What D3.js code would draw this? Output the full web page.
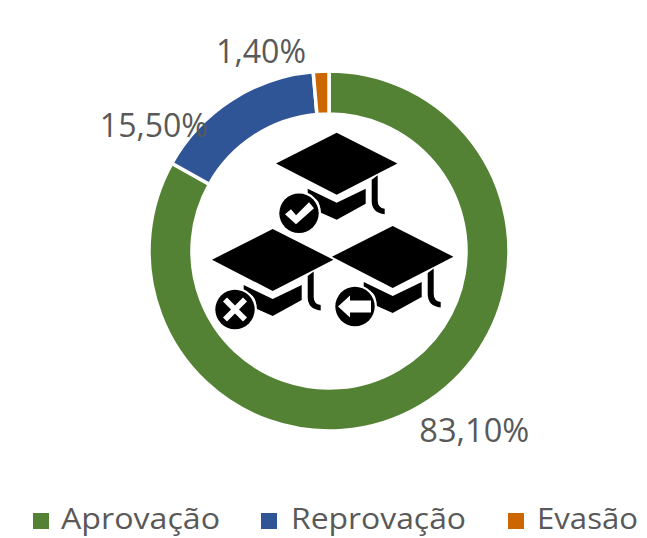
<!DOCTYPE html>
<html>
<head>
<meta charset="utf-8">
<script src="https://cdn.jsdelivr.net/npm/d3@7"></script>
<style>
  html, body { margin: 0; padding: 0; background: #fff; }
  text { font-family: "Open Sans", "Noto Sans", sans-serif; fill: #595959; }
</style>
</head>
<body>
<div class="board"></div>
<script>
var categories = ["Aprovação", "Reprovação", "Evasão"];
var values = [83.1, 15.5, 1.4];
var valueLabels = ["83,10%", "15,50%", "1,40%"];
var colors = ["#548235", "#2F5597", "#CC6600"];

var width = 647, height = 538;
var cx = 329, cy = 251;
var outer = 180, inner = 137;

var svg = d3.select(".board").append("svg")
  .attr("width", width)
  .attr("height", height)
  .style("display", "block");

var pie = d3.pie().sort(null);
var arc = d3.arc().innerRadius(inner).outerRadius(outer);

var ring = svg.append("g").attr("transform", "translate(" + cx + "," + cy + ")");

ring.selectAll("path")
  .data(pie(values))
  .enter()
  .append("path")
  .attr("d", arc)
  .style("fill", function(d, i) { return colors[i]; })
  .style("stroke", "#fff")
  .style("stroke-width", 3.5);

// labels were dragged by hand in the original, so nudge them off the centroid
var labelNudge = [[65, 42], [-89, 7], [-61, -42]];
var labelWidth = [110, 108, 90];

ring.selectAll("text")
  .data(pie(values))
  .enter()
  .append("text")
  .attr("x", function(d, i) { return arc.centroid(d)[0] + labelNudge[i][0]; })
  .attr("y", function(d, i) { return arc.centroid(d)[1] + labelNudge[i][1]; })
  .attr("text-anchor", "middle")
  .attr("dominant-baseline", "central")
  .attr("textLength", function(d, i) { return labelWidth[i]; })
  .attr("lengthAdjust", "spacingAndGlyphs")
  .style("font-size", "33px")
  .text(function(d, i) { return valueLabels[i]; });

// graduation cap icon, origin at the apex of the board
var capBoard = "M0,0L60.7,30.7L0,62L-60.7,30.7Z";
var capBody = "M-29,56L0,70L29,56L29,71L0,87L-18,79Q-14,66 -29,63Z";
var capTassel = "M35,47L41,42.5L41,68Q41,75 48,76L48,81.5Q35,80 35,68Z";

var hats = [
  { x: 336.7, y: 132.7, badge: "check" },
  { x: 272.7, y: 229, badge: "cross" },
  { x: 392.7, y: 226, badge: "arrow" }
];

var badgePaths = {
  check: "M-14,1L-8,-4L-3,2L10,-11L15,-5L-3,11Z",
  cross: "M-12,-8L-8,-12L0,-4L8,-12L12,-8L4,0L12,8L8,12L0,4L-8,12L-12,8L-4,0Z",
  arrow: "M-17,0L-5,-11L-5,-6L16,-6L16,6L-5,6L-5,11Z"
};

var hat = svg.selectAll("g.hat")
  .data(hats)
  .enter()
  .append("g")
  .attr("class", "hat")
  .attr("transform", function(d) { return "translate(" + d.x + "," + d.y + ")"; });

hat.append("path").attr("d", capBody).style("fill", "#000");
hat.append("path").attr("d", capTassel).style("fill", "#000");
hat.append("path").attr("d", capBoard).style("fill", "#000");

var badge = hat.append("g").attr("transform", "translate(-37.7,80.5)");
badge.append("circle").attr("r", 22).style("fill", "#fff");
badge.append("circle").attr("r", 19.7).style("fill", "#000");
badge.append("path")
  .attr("d", function(d) { return badgePaths[d.badge]; })
  .style("fill", "#fff");

// legend
var legendSwatchX = [33, 261, 508];
var legendTextX = [61, 291, 537];
var legendTextW = [159, 175, 101];

var legend = svg.selectAll("g.legend")
  .data(categories)
  .enter()
  .append("g")
  .attr("class", "legend");

legend.append("rect")
  .attr("x", function(d, i) { return legendSwatchX[i]; })
  .attr("y", 513)
  .attr("width", 16)
  .attr("height", 16)
  .style("fill", function(d, i) { return colors[i]; });

legend.append("text")
  .attr("x", function(d, i) { return legendTextX[i]; })
  .attr("y", 529)
  .attr("textLength", function(d, i) { return legendTextW[i]; })
  .attr("lengthAdjust", "spacingAndGlyphs")
  .style("font-size", "30px")
  .text(function(d) { return d; });
</script>
</body>
</html>
